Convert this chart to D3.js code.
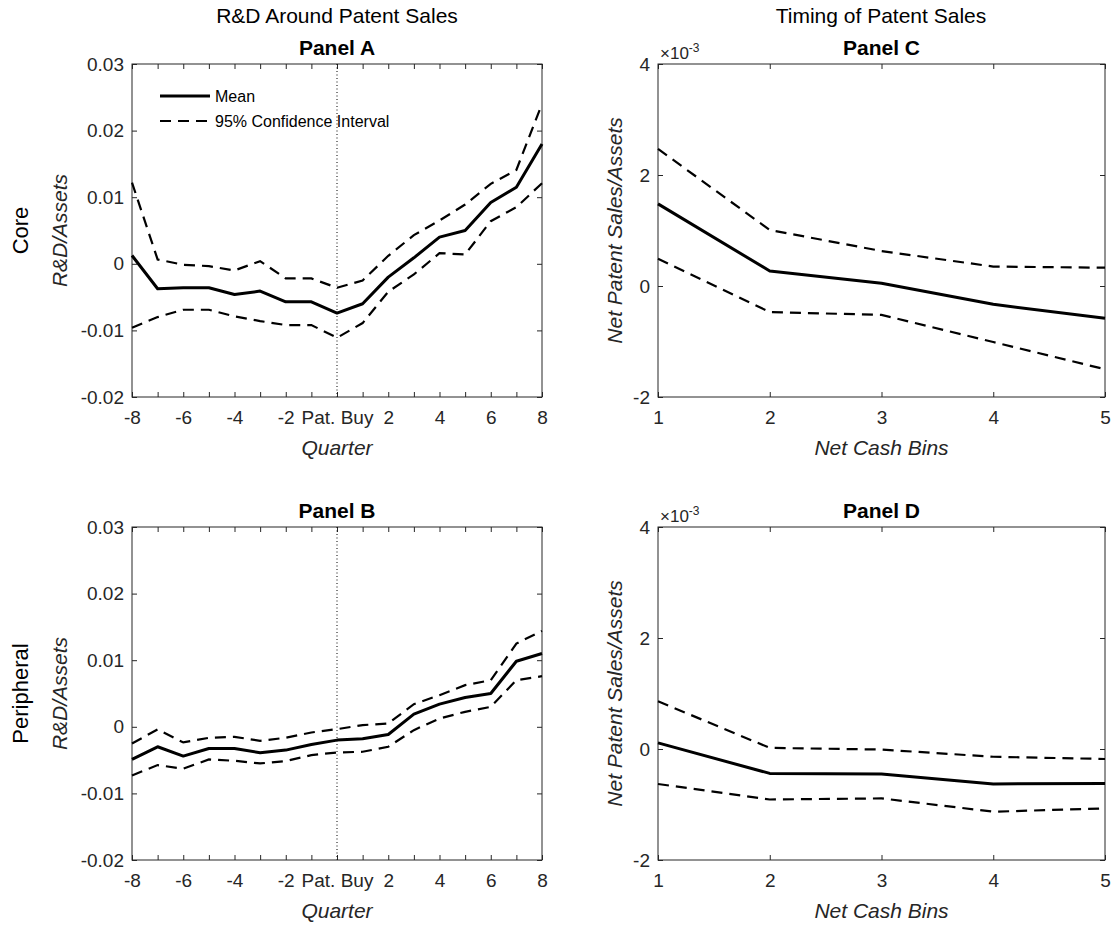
<!DOCTYPE html>
<html>
<head>
<meta charset="utf-8" />
<title>R&D and patent sales</title>
<style>
  body { margin: 0; background: #fff; }
  text { font-family: "Liberation Sans", Arial, Helvetica, sans-serif; }
</style>
</head>
<body>
<div id="wrapper"></div>
<script src="https://d3js.org/d3.v7.min.js"></script>
<script>
// quarters around the patent purchase
const quarters = d3.range(-8, 9)
const quarterLabels = ['-8', '', '-6', '', '-4', '', '-2', '', 'Pat. Buy', '', '2', '', '4', '', '6', '', '8']

// Panel A, core
const coreMean  = [0.00125, -0.00375, -0.0036, -0.0036, -0.0046, -0.0041, -0.0057, -0.0057, -0.0074, -0.006, -0.002, 0.0009, 0.004, 0.005, 0.0092, 0.0115, 0.018]
const coreUpper = [0.0122, 0.00065, -0.00015, -0.00035, -0.001, 0.0004, -0.0022, -0.0022, -0.0036, -0.0025, 0.0012, 0.0043, 0.0065, 0.0089, 0.012, 0.0141, 0.024]
const coreLower = [-0.0096, -0.008, -0.0069, -0.0069, -0.0079, -0.0086, -0.0092, -0.0092, -0.0111, -0.0089, -0.0042, -0.0016, 0.0016, 0.0014, 0.0064, 0.0085, 0.0121]

// Panel B, peripheral
const periMean  = [-0.0049, -0.003, -0.0044, -0.00325, -0.00325, -0.0039, -0.0035, -0.00265, -0.002, -0.0018, -0.00115, 0.0019, 0.0034, 0.0044, 0.005, 0.00985, 0.011]
const periUpper = [-0.0025, -0.0004, -0.00235, -0.00165, -0.0015, -0.0021, -0.00165, -0.00085, -0.00035, 0.00025, 0.0005, 0.0034, 0.00475, 0.00625, 0.007, 0.0125, 0.0144]
const periLower = [-0.0073, -0.00575, -0.0063, -0.0049, -0.0051, -0.0055, -0.00515, -0.00425, -0.00385, -0.00375, -0.003, -0.0005, 0.00125, 0.00225, 0.003, 0.007, 0.0076]

// net cash bins
const bins = [1, 2, 3, 4, 5]

// Panel C (x 1e-3)
const cMean  = [1.48, 0.27, 0.05, -0.33, -0.58]
const cUpper = [2.47, 1.01, 0.63, 0.35, 0.33]
const cLower = [0.49, -0.47, -0.52, -1.01, -1.5]

// Panel D (x 1e-3)
const dMean  = [0.11, -0.44, -0.45, -0.63, -0.62]
const dUpper = [0.86, 0.02, -0.01, -0.14, -0.18]
const dLower = [-0.63, -0.91, -0.89, -1.13, -1.07]

const rdTicks = [-0.02, -0.01, 0, 0.01, 0.02, 0.03]
const saleTicks = [-2, 0, 2, 4]

const width = 1113
const height = 928
const axisColor = '#262626'
const dash = '11,7'

const svg = d3.select('#wrapper').append('svg')
    .attr('width', width)
    .attr('height', height)

function panel(opt) {
    const g = svg.append('g')
    const x = d3.scaleLinear().domain(opt.xDomain).range([opt.x0, opt.x1])
    const y = d3.scaleLinear().domain(opt.yDomain).range([opt.y1, opt.y0])

    const tickFmt = d => opt.xLabels ? opt.xLabels[opt.xTicks.indexOf(d)] : String(d)

    // ticks point inward on all four sides
    const bottom = g.append('g').attr('transform', `translate(0,${opt.y1})`)
        .call(d3.axisBottom(x).tickValues(opt.xTicks).tickSize(-5).tickPadding(14).tickFormat(tickFmt))
    const top = g.append('g').attr('transform', `translate(0,${opt.y0})`)
        .call(d3.axisTop(x).tickValues(opt.xTicks).tickSize(-5).tickFormat(''))
    const left = g.append('g').attr('transform', `translate(${opt.x0},0)`)
        .call(d3.axisLeft(y).tickValues(opt.yTicks).tickSize(-5).tickPadding(8).tickFormat(opt.yFormat))
    const right = g.append('g').attr('transform', `translate(${opt.x1},0)`)
        .call(d3.axisRight(y).tickValues(opt.yTicks).tickSize(-5).tickFormat(''))

    ;[bottom, top, left, right].forEach(a => {
        a.select('.domain').remove()
        a.selectAll('line').attr('stroke', axisColor)
        a.selectAll('text').attr('fill', axisColor).style('font-size', '19px')
    })

    // box
    g.append('rect')
        .attr('x', opt.x0).attr('y', opt.y0)
        .attr('width', opt.x1 - opt.x0).attr('height', opt.y1 - opt.y0)
        .attr('fill', 'none').attr('stroke', axisColor).attr('stroke-width', 1)

    if (opt.zeroLine) {
        g.append('line')
            .attr('x1', x(0)).attr('x2', x(0))
            .attr('y1', opt.y0).attr('y2', opt.y1)
            .attr('stroke', '#000').attr('stroke-width', 1)
            .attr('stroke-dasharray', '1,2.5')
    }

    const line = d3.line().x((d, i) => x(opt.xs[i])).y(d => y(d))
    g.append('path').datum(opt.upper).attr('d', line)
        .attr('fill', 'none').attr('stroke', '#000').attr('stroke-width', 2.2)
        .attr('stroke-dasharray', dash)
    g.append('path').datum(opt.lower).attr('d', line)
        .attr('fill', 'none').attr('stroke', '#000').attr('stroke-width', 2.2)
        .attr('stroke-dasharray', dash)
    g.append('path').datum(opt.mean).attr('d', line)
        .attr('fill', 'none').attr('stroke', '#000').attr('stroke-width', 3)
        .attr('stroke-linejoin', 'round')

    const cx = (opt.x0 + opt.x1) / 2
    const cy = (opt.y0 + opt.y1) / 2

    g.append('text').attr('x', cx).attr('y', opt.y0 - 9)
        .attr('text-anchor', 'middle').style('font-size', '21px').style('font-weight', 'bold')
        .text(opt.title)

    g.append('text').attr('x', cx).attr('y', opt.y1 + 58)
        .attr('text-anchor', 'middle').style('font-size', '21px').style('font-style', 'italic')
        .attr('fill', axisColor).text(opt.xTitle)

    g.append('text')
        .attr('transform', `translate(${opt.yTitleX},${cy}) rotate(-90)`)
        .attr('text-anchor', 'middle').style('font-size', '21px').style('font-style', 'italic')
        .attr('fill', axisColor).text(opt.yTitle)

    if (opt.exponent) {
        const t = g.append('text').attr('x', opt.x0 + 2).attr('y', opt.y0 - 5)
            .attr('fill', axisColor).style('font-size', '17px')
        t.append('tspan').text('\u00d710')
        t.append('tspan').attr('dy', -7).style('font-size', '12px').text('-3')
    }

    if (opt.rowLabel) {
        g.append('text')
            .attr('transform', `translate(${opt.rowLabelX},${cy}) rotate(-90)`)
            .attr('text-anchor', 'middle').style('font-size', '22px')
            .attr('fill', '#000').text(opt.rowLabel)
    }
    return { g, x, y }
}

const rdFmt = d => d === 0 ? '0' : String(d)

panel({
    x0: 132, x1: 542, y0: 64, y1: 397,
    xDomain: [-8, 8], yDomain: [-0.02, 0.03],
    xTicks: quarters, xLabels: quarterLabels, yTicks: rdTicks, yFormat: rdFmt,
    xs: quarters, mean: coreMean, upper: coreUpper, lower: coreLower,
    title: 'Panel A', xTitle: 'Quarter', yTitle: 'R&D/Assets', yTitleX: 67,
    zeroLine: true, rowLabel: 'Core', rowLabelX: 28
})

panel({
    x0: 132, x1: 542, y0: 527, y1: 860,
    xDomain: [-8, 8], yDomain: [-0.02, 0.03],
    xTicks: quarters, xLabels: quarterLabels, yTicks: rdTicks, yFormat: rdFmt,
    xs: quarters, mean: periMean, upper: periUpper, lower: periLower,
    title: 'Panel B', xTitle: 'Quarter', yTitle: 'R&D/Assets', yTitleX: 67,
    zeroLine: true, rowLabel: 'Peripheral', rowLabelX: 28
})

panel({
    x0: 658, x1: 1105, y0: 64, y1: 397,
    xDomain: [1, 5], yDomain: [-2, 4],
    xTicks: bins, yTicks: saleTicks, yFormat: d => String(d),
    xs: bins, mean: cMean, upper: cUpper, lower: cLower,
    title: 'Panel C', xTitle: 'Net Cash Bins', yTitle: 'Net Patent Sales/Assets', yTitleX: 622,
    exponent: true
})

panel({
    x0: 658, x1: 1105, y0: 527, y1: 860,
    xDomain: [1, 5], yDomain: [-2, 4],
    xTicks: bins, yTicks: saleTicks, yFormat: d => String(d),
    xs: bins, mean: dMean, upper: dUpper, lower: dLower,
    title: 'Panel D', xTitle: 'Net Cash Bins', yTitle: 'Net Patent Sales/Assets', yTitleX: 622,
    exponent: true
})

// column titles
svg.append('text').attr('x', 337).attr('y', 23).attr('text-anchor', 'middle')
    .style('font-size', '21px').text('R&D Around Patent Sales')
svg.append('text').attr('x', 881).attr('y', 23).attr('text-anchor', 'middle')
    .style('font-size', '21px').text('Timing of Patent Sales')

// legend in panel A
const legend = [
    { label: 'Mean', width: 3, dash: null },
    { label: '95% Confidence Interval', width: 2.2, dash: dash }
]
const lg = svg.append('g').attr('transform', 'translate(160,96)')
legend.forEach((d, i) => {
    lg.append('line').attr('x1', 0).attr('x2', 50).attr('y1', i * 25).attr('y2', i * 25)
        .attr('stroke', '#000').attr('stroke-width', d.width)
        .attr('stroke-dasharray', d.dash)
    lg.append('text').attr('x', 55).attr('y', i * 25 + 6).style('font-size', '16px')
        .text(d.label)
})
</script>
</body>
</html>
